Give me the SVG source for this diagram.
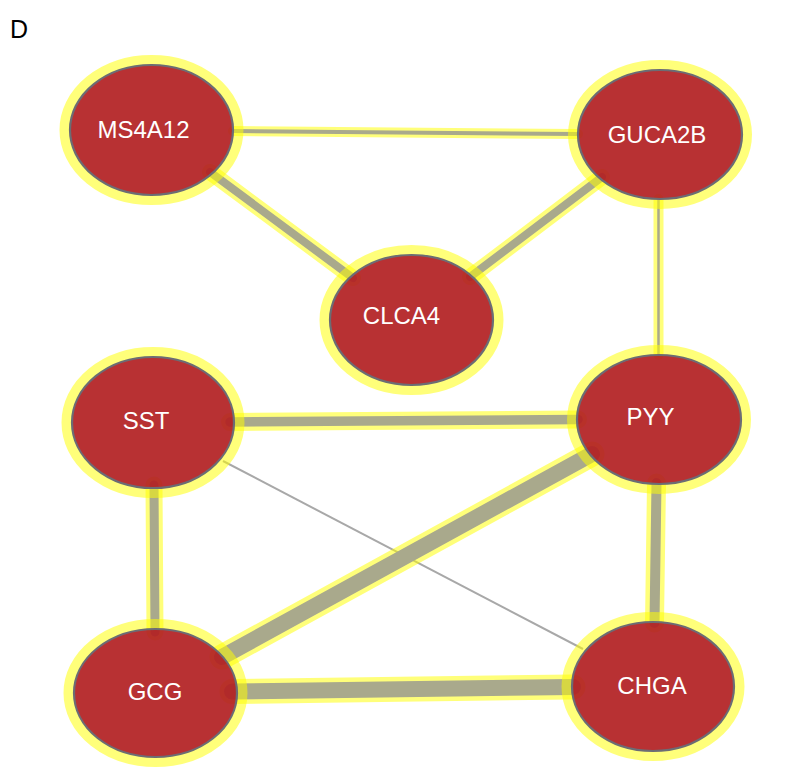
<svg xmlns="http://www.w3.org/2000/svg" width="787" height="774" viewBox="0 0 787 774">
<style>
.halo{fill:none;stroke:#ffff00;stroke-opacity:0.52;stroke-width:10}
.body{fill:#b22022;fill-opacity:0.92;stroke:#6c6c74;stroke-width:2.2}
.lbl{font-family:"Liberation Sans",Arial,sans-serif;font-size:24px;fill:#ffffff;text-anchor:middle}
.eh{stroke:#ffff00;stroke-opacity:0.52;stroke-linecap:round;fill:none}
.eg{stroke:#a9a98c;stroke-linecap:round;fill:none}
</style>
<rect width="787" height="774" fill="#ffffff"/>
<text x="10" y="38" font-family="Liberation Sans,Arial,sans-serif" font-size="25" fill="#000">D</text>
<g id="edges">
  <g id="e-ms4a12-guca2b"><line class="eh" x1="233" y1="131" x2="578" y2="134" stroke-width="10"/><line class="eg" x1="233" y1="131" x2="578" y2="134" stroke-width="4"/></g>
  <g id="e-ms4a12-clca4"><line class="eh" x1="210" y1="172" x2="353" y2="278" stroke-width="16"/><line class="eg" x1="210" y1="172" x2="353" y2="278" stroke-width="8"/></g>
  <g id="e-guca2b-clca4"><line class="eh" x1="602" y1="177" x2="470" y2="277" stroke-width="16"/><line class="eg" x1="602" y1="177" x2="470" y2="277" stroke-width="8"/></g>
  <g id="e-guca2b-pyy"><line class="eh" x1="658.5" y1="199" x2="658.5" y2="355" stroke-width="10"/><line class="eg" x1="658.5" y1="199" x2="658.5" y2="355" stroke-width="2.5"/></g>
  <g id="e-sst-pyy"><line class="eh" x1="230" y1="422" x2="578" y2="419.5" stroke-width="18"/><line class="eg" x1="230" y1="422" x2="578" y2="419.5" stroke-width="9.5"/></g>
  <g id="e-sst-gcg"><line class="eh" x1="154" y1="485" x2="155" y2="632" stroke-width="17"/><line class="eg" x1="154" y1="485" x2="155" y2="632" stroke-width="9"/></g>
  <g id="e-sst-chga"><line x1="223" y1="461" x2="583" y2="649" stroke="#a8a8a8" stroke-width="2"/></g>
  <g id="e-pyy-gcg"><line class="eh" x1="592" y1="454" x2="222" y2="657" stroke-width="25"/><line class="eg" x1="592" y1="454" x2="222" y2="657" stroke-width="16"/></g>
  <g id="e-pyy-chga"><line class="eh" x1="656.5" y1="483" x2="654.5" y2="623" stroke-width="19"/><line class="eg" x1="656.5" y1="483" x2="654.5" y2="623" stroke-width="10"/></g>
  <g id="e-gcg-chga"><line class="eh" x1="232" y1="691.5" x2="573" y2="687" stroke-width="25"/><line class="eg" x1="232" y1="691.5" x2="573" y2="687" stroke-width="16"/></g>
</g>
<g id="MS4A12"><ellipse class="halo" cx="151.5" cy="130" rx="87" ry="70"/><ellipse class="body" cx="151.5" cy="130" rx="81.5" ry="65"/><text class="lbl" x="143.5" y="137.5">MS4A12</text></g>
<g id="GUCA2B"><ellipse class="halo" cx="660" cy="134.5" rx="87" ry="69.5"/><ellipse class="body" cx="660" cy="134.5" rx="82" ry="64.5"/><text class="lbl" x="657" y="142.5">GUCA2B</text></g>
<g id="CLCA4"><ellipse class="halo" cx="411.5" cy="320" rx="87" ry="70"/><ellipse class="body" cx="411.5" cy="320" rx="81.5" ry="65"/><text class="lbl" x="401.5" y="323.5">CLCA4</text></g>
<g id="SST"><ellipse class="halo" cx="153" cy="422.5" rx="86.5" ry="70.5"/><ellipse class="body" cx="153" cy="422.5" rx="81" ry="65.5"/><text class="lbl" x="146" y="428.5">SST</text></g>
<g id="PYY"><ellipse class="halo" cx="659" cy="419.5" rx="87" ry="69.5"/><ellipse class="body" cx="659" cy="419.5" rx="82" ry="64.5"/><text class="lbl" x="650.5" y="424.5">PYY</text></g>
<g id="GCG"><ellipse class="halo" cx="155.5" cy="693" rx="87" ry="69"/><ellipse class="body" cx="155.5" cy="693" rx="81.5" ry="64"/><text class="lbl" x="155" y="699.5">GCG</text></g>
<g id="CHGA"><ellipse class="halo" cx="653" cy="686.5" rx="86.5" ry="69.5"/><ellipse class="body" cx="653" cy="686.5" rx="81" ry="64.5"/><text class="lbl" x="652" y="693.5">CHGA</text></g>
</svg>
